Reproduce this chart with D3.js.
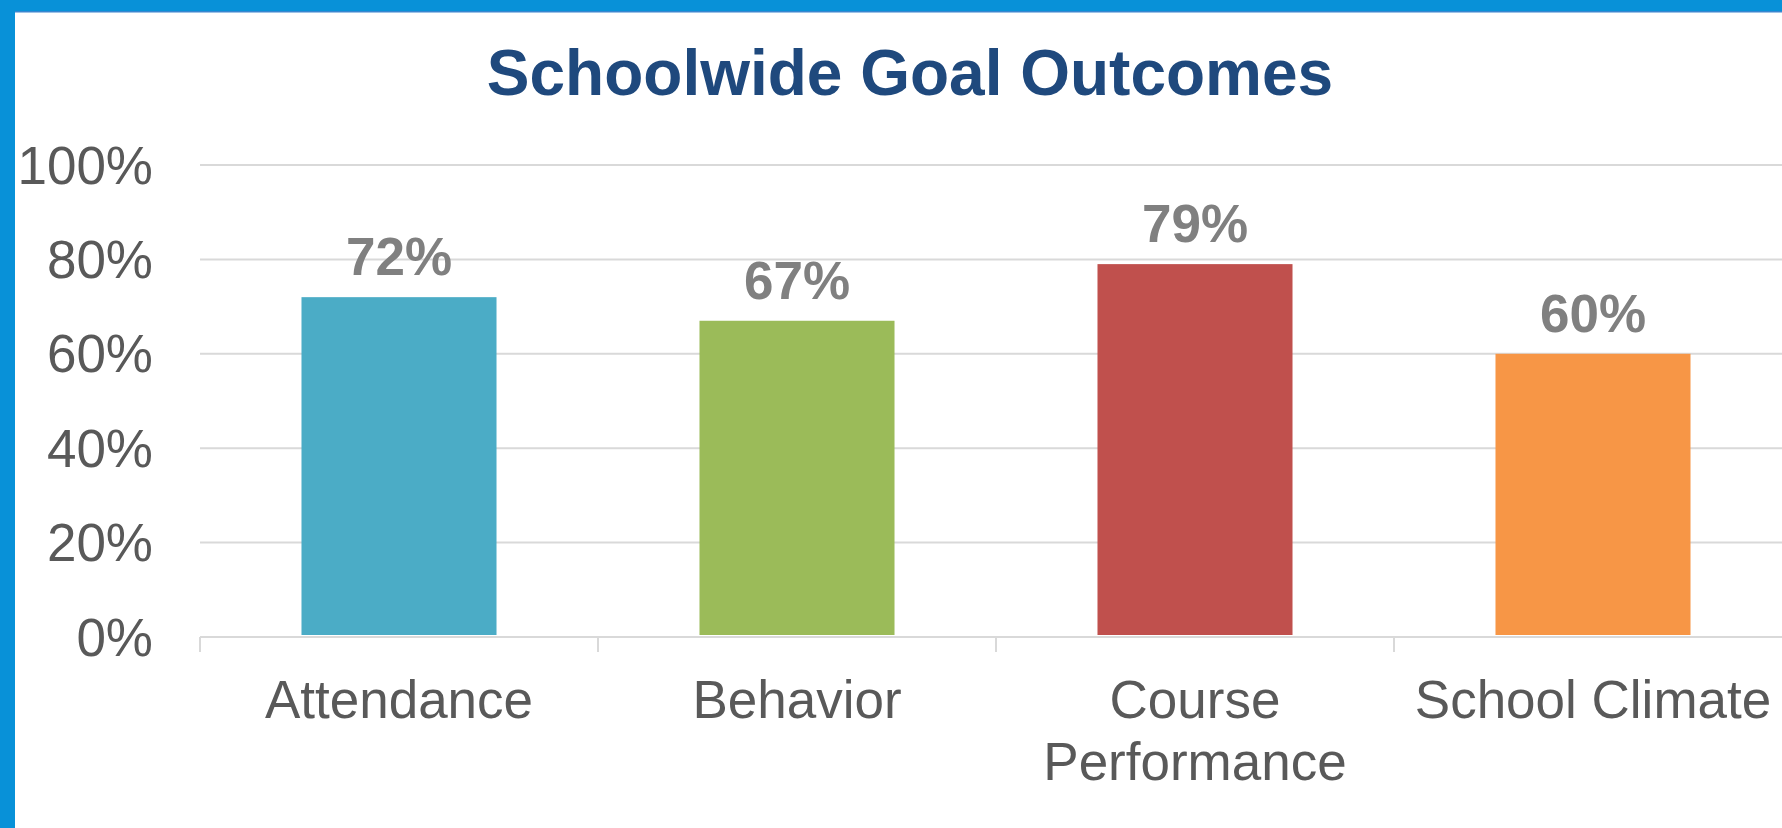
<!DOCTYPE html>
<html>
<head>
<meta charset="utf-8">
<script src="https://cdn.jsdelivr.net/npm/d3@7"></script>
<style>
  html, body { margin: 0; padding: 0; background: #fff; overflow: hidden; }
  svg { display: block; }
</style>
</head>
<body>
<div id="container"></div>
<script>
const width = 1782;
const height = 828;

// chart data
const categories = ["Attendance", "Behavior", "Course Performance", "School Climate"];
const labelLines = [["Attendance"], ["Behavior"], ["Course", "Performance"], ["School Climate"]];
const outcomes = [0.72, 0.67, 0.79, 0.60];
const barColors = ["#4BACC6", "#9BBB59", "#C0504D", "#F79646"];
const yTicks = [0, 0.2, 0.4, 0.6, 0.8, 1.0];

const margin = {left: 200, right: -10, top: 165, bottom: 191};

let svg = d3.select("#container")
	.append("svg")
	.attr("width", width)
	.attr("height", height);

// blue frame (top and left)
svg.append("rect").attr("x", 0).attr("y", 0).attr("width", width).attr("height", 11).attr("fill", "#0891D8");
svg.append("rect").attr("x", 0).attr("y", 11).attr("width", width).attr("height", 1.5).attr("fill", "#3a86cf");
svg.append("rect").attr("x", 0).attr("y", 0).attr("width", 15).attr("height", height).attr("fill", "#0891D8");

const x = d3.scaleBand()
	.domain(categories)
	.range([margin.left, width - margin.right])
	.padding(0);

const y = d3.scaleLinear()
	.domain([0, 1])
	.range([height - margin.bottom, margin.top]);

// gridlines
svg.append("g")
	.selectAll("line")
	.data(yTicks.slice(1))
	.enter()
	.append("line")
	.attr("x1", margin.left)
	.attr("x2", width)
	.attr("y1", d => y(d))
	.attr("y2", d => y(d))
	.attr("stroke", "#D9D9D9")
	.attr("stroke-width", 2);

// y axis labels
svg.append("g")
	.selectAll("text")
	.data(yTicks)
	.enter()
	.append("text")
	.attr("x", 153)
	.attr("y", d => y(d))
	.attr("dy", "0.35em")
	.attr("text-anchor", "end")
	.attr("font-family", "Liberation Sans, Arial, sans-serif")
	.attr("font-size", 53)
	.attr("fill", "#595959")
	.text(d3.format(".0%"));

// bars
const barW = x.bandwidth() * 0.49;
svg.append("g")
	.selectAll("rect")
	.data(outcomes)
	.enter()
	.append("rect")
	.attr("x", (d, i) => x(categories[i]) + (x.bandwidth() - barW) / 2)
	.attr("y", d => y(d))
	.attr("width", barW)
	.attr("height", d => y(0) - y(d) - 2)
	.attr("fill", (d, i) => barColors[i]);

// x axis line + ticks at category boundaries
svg.append("line")
	.attr("x1", margin.left)
	.attr("x2", width)
	.attr("y1", y(0))
	.attr("y2", y(0))
	.attr("stroke", "#D9D9D9")
	.attr("stroke-width", 2);

svg.append("g")
	.selectAll("line")
	.data(categories)
	.enter()
	.append("line")
	.attr("x1", d => x(d))
	.attr("x2", d => x(d))
	.attr("y1", y(0))
	.attr("y2", y(0) + 15)
	.attr("stroke", "#D9D9D9")
	.attr("stroke-width", 2);

// category labels
svg.append("g")
	.selectAll("text")
	.data(categories)
	.enter()
	.append("text")
	.attr("x", d => x(d) + x.bandwidth() / 2)
	.attr("y", y(0) + 81)
	.attr("text-anchor", "middle")
	.attr("font-family", "Liberation Sans, Arial, sans-serif")
	.attr("font-size", 53)
	.attr("fill", "#595959")
	.each(function(d, i) {
		const t = d3.select(this);
		labelLines[i].forEach((line, k) => {
			t.append("tspan")
				.attr("x", x(d) + x.bandwidth() / 2)
				.attr("dy", k === 0 ? 0 : 61.5)
				.text(line);
		});
	});

// value labels
svg.append("g")
	.selectAll("text")
	.data(outcomes)
	.enter()
	.append("text")
	.attr("x", (d, i) => x(categories[i]) + x.bandwidth() / 2)
	.attr("y", d => y(d) - 22)
	.attr("text-anchor", "middle")
	.attr("font-family", "Liberation Sans, Arial, sans-serif")
	.attr("font-weight", "bold")
	.attr("font-size", 53)
	.attr("fill", "#808080")
	.text(d3.format(".0%"));

// title
svg.append("text")
	.attr("x", 910)
	.attr("y", 95)
	.attr("text-anchor", "middle")
	.attr("font-family", "Liberation Sans, Arial, sans-serif")
	.attr("font-weight", "bold")
	.attr("font-size", 64)
	.attr("fill", "#1F497D")
	.text("Schoolwide Goal Outcomes");
</script>
</body>
</html>
